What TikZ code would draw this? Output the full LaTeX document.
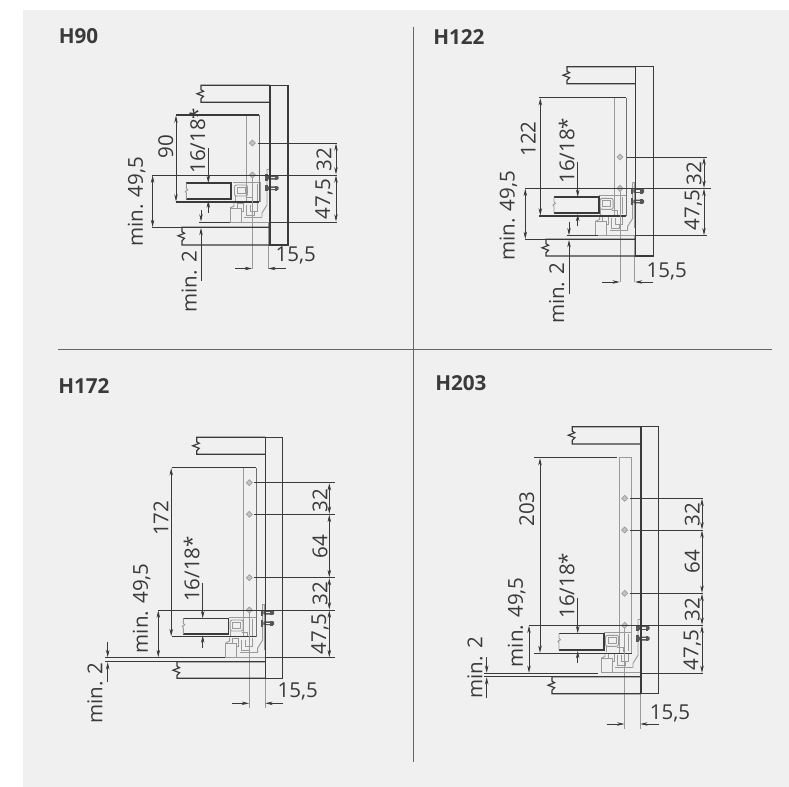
\documentclass[tikz,border=0pt]{standalone}
\usepackage{fontspec}
\setmainfont{Open Sans}
\usetikzlibrary{arrows.meta}
\definecolor{panelbg}{HTML}{F0F0F0}
\definecolor{ink}{HTML}{3A3A3A}
\definecolor{midg}{HTML}{9A9A9A}
\definecolor{rule}{HTML}{666666}
\definecolor{darkg}{HTML}{707070}
\tikzset{
 x=.75pt,y=-.75pt,
 ln/.style={draw=ink,line width=.9pt},
 thin ln/.style={draw=ink,line width=.6pt},
 gl/.style={draw=midg,line width=.7pt},
 fr/.style={draw=darkg,line width=.7pt},
 dim/.style={draw=ink,line width=.45pt,{Stealth[length=5.5pt,width=2.6pt]}-{Stealth[length=5.5pt,width=2.6pt]}},
 pt/.style={draw=ink,line width=.45pt,-{Stealth[length=5.5pt,width=2.6pt]}},
 lbl/.style={text=ink,font=\fontsize{15.4}{15.4}\selectfont,inner sep=0pt,rotate=90},
 hlbl/.style={text=ink,font=\fontsize{15.4}{15.4}\selectfont,inner sep=0pt},
 ttl/.style={text=ink,font=\fontsize{15.5}{15.5}\selectfont\bfseries,inner sep=0pt,anchor=west},
}
% wiggle + shelf
\newcommand{\shelf}[4]{% left, top, bottom, right
 \draw[ln] (#4,#2) -- (#1,#2) -- ++(0,4.5) -- ++(2.5,1.5) -- ++(-6.5,2.5) -- ++(6.5,2.5) -- ++(-2.5,2.5) -- (#1,#3) -- (#4,#3);}
% drawer mechanism, local origin = (cabinet inner face, upper reference line)
\newcommand{\mech}[2]{%
 \begin{scope}[shift={(#1,#2)}]
  % fixing plate and bracket
  \draw[gl] (-3,-6) -- (-.8,-6) -- (-.8,40) ;
  \draw[gl] (-3,-6) -- (-3,30) -- (-8,38) -- (-8,42);
  \draw[gl] (-38,47) -- (0,47);
  \draw[gl] (-26,42.5) -- (-8,42.5);
  % runner profile
  \draw[gl,rounded corners=1.5pt] (-35.5,10) rectangle (-22.5,21);
  \draw[gl] (-37,7.5) -- (-9.5,7.5) -- (-9.5,27);
  \draw[gl] (-33,12.5) rectangle (-25,18.5);
  \draw[gl] (-13,9) -- (-13,26);
  \draw[gl] (-35,21) -- (-35,27);
  \draw[gl] (-24,22) -- (-18,22) -- (-18,27);
  % lower clip
  \draw[gl] (-40,33) -- (-36,31) -- (-36,27.5);
  \draw[gl] (-40,33) -- (-40,47.5) -- (-29,47.5) -- (-29,33) -- (-40,33);
  \draw[gl] (-33,33) -- (-33,28.5) -- (-27,28.5) -- (-27,36) -- (-29,36);
  \draw[gl] (-24,30) -- (-24,40) -- (-16,40) -- (-16,36);
  \draw[gl] (-20,30) -- (-20,36) -- (-13,36) -- (-13,28);
  % screws
  \foreach \sy/\nm in {2.7/a,13.3/b}{
   \fill[ink!85] (-5,\sy-3.2) rectangle (-2.4,\sy+3.2);
   \fill[ink!85,rounded corners=.6pt] (-2.4,\sy-1.9) rectangle (8.5,\sy+1.9);
   \fill[panelbg] (0,\sy-.6) rectangle (5,\sy+.6);
   \fill[ink!85] (4.5,\sy-2.6) rectangle (7,\sy+2.6);
  }
 \end{scope}}
\newcommand{\hole}[2]{%
 \draw[midg,fill=midg!60,line width=.5pt] (#1-3,#2) -- (#1,#2-3) -- (#1+3,#2) -- (#1,#2+3) -- cycle;}
% drawer box: left, right, top, bottom
\newcommand{\dbox}[4]{%
 \draw[draw=ink,line width=1.2pt] (#1,#3) -- (#2,#3) -- (#2,#4) -- (#1,#4);
 \draw[draw=midg,line width=.7pt] (#1,#3) -- (#1,#3+5) -- (#1+1.5,#3+6.5) -- (#1-1,#3+8) -- (#1,#3+9.5) -- (#1,#4);}
\begin{document}
\begin{tikzpicture}
\useasboundingbox (0,0) rectangle (789,787);
\fill[white] (0,0) rectangle (789,787);
\fill[panelbg] (23,10) rectangle (789,787);
\draw[draw=rule,line width=.75pt] (413,27) -- (413,762);
\draw[draw=rule,line width=.75pt] (58,350) -- (772,350);
\node[ttl] (t1) at (58.5,36.5) {H90};
\node[ttl] (t2) at (433,37.5) {H122};
\node[ttl] (t3) at (58,386.5) {H172};
\node[ttl] (t4) at (435,383.5) {H203};

% ===== H90
\mech{270}{175}
\draw[gl] (246.3,115) -- (246.3,202);
\draw[fr] (259,115) -- (259,202);
\draw[ln] (176,115) -- (259,115);
\draw[ln] (259,202) -- (176,202);
\draw[gl] (252.3,175) -- (252.3,269);
\draw[gl] (268,222) -- (268,269);
\hole{252.3}{143}\hole{252.3}{175}
\dbox{186.3}{231}{183.3}{199.3}
\shelf{201}{85.3}{102.3}{270}
\shelf{182}{227.3}{245}{270}
\draw[ln] (270,85.3) rectangle (288,245);
\draw[thin ln] (152.3,175) -- (337,175);
\draw[thin ln] (257.7,143) -- (337,143);
\draw[thin ln] (270,222) -- (337,222);
\draw[ln] (152.3,227.3) -- (270,227.3);
\draw[thin ln] (199,222) -- (230,222);
\draw[dim] (176,115.5) -- (176,201.5);
\draw[dim] (152.6,175.5) -- (152.6,227);
\draw[dim] (336,143.5) -- (336,174.5);
\draw[dim] (336,175.5) -- (336,221.5);
\draw[pt] (208.3,148) -- (208.3,183);
\draw[pt] (208.3,213) -- (208.3,200.5);
\draw[pt] (201,210) -- (201,221.5);
\draw[pt] (201,280.7) -- (201,228);
\draw[pt] (235,268.5) -- (252,268.5);
\draw[pt] (286,268.5) -- (268.3,268.5);
\node[lbl] (a1) at (136.7,201.7) {min. 49,5};
\node[lbl] (a2) at (165.7,147) {90};
\node[lbl] (a3) at (197.3,140.7) {16/18*};
\node[lbl] (a4) at (324,160) {32};
\node[lbl] (a5) at (324,199.3) {47,5};
\node[lbl] (a6) at (189.3,281.7) {min. 2};
\node[hlbl] (a7) at (295.7,255.7) {15,5};

% ===== H122
\mech{635.7}{188.3}
\draw[gl] (614.3,97.7) -- (614.3,216);
\draw[fr] (626,97.7) -- (626,216);
\draw[ln] (539.3,97.7) -- (626,97.7);
\draw[ln] (626,216) -- (539.3,216);
\draw[gl] (620,188.3) -- (620,282);
\draw[gl] (634.7,235.7) -- (634.7,282);
\hole{620}{157}\hole{620}{188.3}
\dbox{554}{599}{197}{213.3}
\shelf{567}{66.7}{83.7}{635.7}
\shelf{546}{239.3}{256}{635.7}
\draw[ln] (635.7,66.7) rectangle (653.7,256);
\draw[thin ln] (525,188.3) -- (711,188.3);
\draw[thin ln] (627,157) -- (706.7,157);
\draw[thin ln] (635.7,235.7) -- (706.7,235.7);
\draw[ln] (525,239.3) -- (635.7,239.3);
\draw[thin ln] (566.7,235.7) -- (598,235.7);
\draw[dim] (540.3,98.2) -- (540.3,215.5);
\draw[dim] (525.3,188.8) -- (525.3,239);
\draw[dim] (704,157.5) -- (704,187.8);
\draw[dim] (704,188.8) -- (704,235.2);
\draw[pt] (577.7,161.7) -- (577.7,197);
\draw[pt] (577.7,226) -- (577.7,214);
\draw[pt] (569,221.7) -- (569,235.2);
\draw[pt] (569,294.3) -- (569,240);
\draw[pt] (602,282) -- (619.7,282);
\draw[pt] (653.3,282) -- (635,282);
\node[lbl] (b1) at (508.3,216) {min. 49,5};
\node[lbl] (b2) at (528.3,139) {122};
\node[lbl] (b3) at (566.7,150.7) {16/18*};
\node[lbl] (b4) at (694,173.3) {32};
\node[lbl] (b5) at (693.3,210) {47,5};
\node[lbl] (b6) at (556.7,293.3) {min. 2};
\node[hlbl] (b7) at (666.7,271.7) {15,5};

% ===== H172
\mech{265.7}{610}
\draw[gl] (243.3,467.7) -- (243.3,636.7);
\draw[fr] (256,467.7) -- (256,636.7);
\draw[ln] (171.7,467.7) -- (256,467.7);
\draw[ln] (256,636.7) -- (171.7,636.7);
\draw[gl] (249.3,610) -- (249.3,708);
\draw[gl] (265,657.7) -- (265,708);
\hole{249.3}{482.7}\hole{249.3}{514.3}\hole{249.3}{577.7}\hole{249.3}{610}
\dbox{183.3}{228.3}{618.3}{634}
\shelf{196.7}{437.3}{454.3}{265.7}
\shelf{177}{661.7}{678.3}{265.7}
\draw[ln] (265.7,437.3) rectangle (282.7,678.3);
\draw[thin ln] (158.3,610) -- (335,610);
\draw[thin ln] (254,482.7) -- (335,482.7);
\draw[thin ln] (254,514.3) -- (335,514.3);
\draw[thin ln] (254,577.7) -- (335,577.7);
\draw[thin ln] (105,657.7) -- (225,657.7);
\draw[thin ln] (265.7,657.7) -- (335,657.7);
\draw[ln] (105,661.7) -- (265.7,661.7);
\draw[dim] (171.2,468.2) -- (171.2,636.2);
\draw[dim] (158.3,610.5) -- (158.3,657.2);
\draw[dim] (329.3,483.2) -- (329.3,513.8);
\draw[dim] (329.3,514.8) -- (329.3,577.2);
\draw[dim] (329.3,578.2) -- (329.3,609.5);
\draw[dim] (329.3,610.5) -- (329.3,657.2);
\draw[pt] (202.7,582.7) -- (202.7,618.3);
\draw[pt] (202.7,648.3) -- (202.7,635.5);
\draw[pt] (107.7,641.7) -- (107.7,657.2);
\draw[pt] (107.7,681.7) -- (107.7,662.2);
\draw[pt] (231.7,703.3) -- (249,703.3);
\draw[pt] (283.3,703.3) -- (265.3,703.3);
\node[lbl] (c1) at (141.7,608.3) {min. 49,5};
\node[lbl] (c2) at (161,518.3) {172};
\node[lbl] (c3) at (191.7,569) {16/18*};
\node[lbl] (c4) at (320,500.7) {32};
\node[lbl] (c5) at (320,546.7) {64};
\node[lbl] (c6) at (320,594) {32};
\node[lbl] (c7) at (320,634) {47,5};
\node[lbl] (c8) at (95,693) {min. 2};
\node[hlbl] (c9) at (297.7,691.7) {15,5};

% ===== H203
\mech{641}{625.3}
\draw[gl] (619,457.7) -- (631.7,457.7) -- (631.7,653.3);
\draw[gl] (619,457.7) -- (619,653.3);
\draw[ln] (534.3,457.7) -- (616.7,457.7);
\draw[ln] (534.3,653.3) -- (631.7,653.3);
\draw[gl] (624.7,625.3) -- (624.7,729.3);
\draw[gl] (640,673.3) -- (640,729.3);
\hole{624.7}{498.3}\hole{624.7}{530}\hole{624.7}{593.3}\hole{624.7}{625.3}
\dbox{559}{604}{633.3}{650}
\shelf{572.3}{426.7}{444}{641}
\shelf{552}{676.7}{693.7}{641}
\draw[ln] (641,426.7) rectangle (658.3,693.7);
\draw[thin ln] (529,625.3) -- (703.3,625.3);
\draw[thin ln] (630,498.3) -- (703.3,498.3);
\draw[thin ln] (630,530) -- (703.3,530);
\draw[thin ln] (630,593.3) -- (703.3,593.3);
\draw[thin ln] (484,673.3) -- (598,673.3);
\draw[thin ln] (641,673.3) -- (703.3,673.3);
\draw[ln] (484,676.7) -- (641,676.7);
\draw[dim] (540,458.2) -- (540,652.8);
\draw[dim] (529,625.8) -- (529,672.8);
\draw[dim] (702,498.8) -- (702,529.5);
\draw[dim] (702,530.5) -- (702,592.8);
\draw[dim] (702,593.8) -- (702,624.8);
\draw[dim] (702,625.8) -- (702,672.8);
\draw[pt] (577.7,598.3) -- (577.7,633.3);
\draw[pt] (577.7,663.3) -- (577.7,651);
\draw[pt] (486.7,657.3) -- (486.7,672.8);
\draw[pt] (486.7,698.3) -- (486.7,677.2);
\draw[pt] (606.7,724) -- (624.4,724);
\draw[pt] (659,724) -- (640.3,724);
\node[lbl] (d1) at (516.7,622.3) {min. 49,5};
\node[lbl] (d2) at (526.7,509) {203};
\node[lbl] (d3) at (566.7,585.7) {16/18*};
\node[lbl] (d4) at (692.3,514.3) {32};
\node[lbl] (d5) at (692.3,561.7) {64};
\node[lbl] (d6) at (692.3,610) {32};
\node[lbl] (d7) at (692.3,650) {47,5};
\node[lbl] (d8) at (475,667.7) {min. 2};
\node[hlbl] (d9) at (670,713.3) {15,5};
\end{tikzpicture}
\end{document}
